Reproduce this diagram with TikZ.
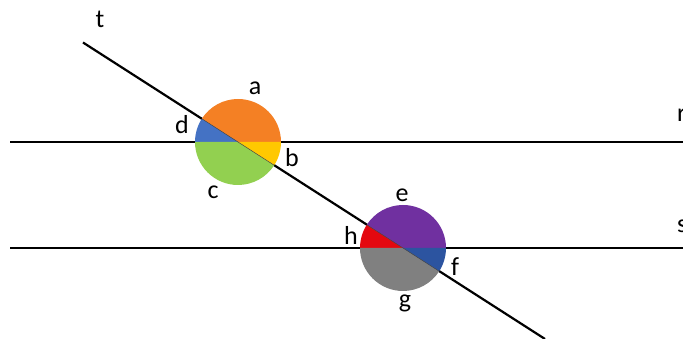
\documentclass[tikz,border=0pt]{standalone}
\usepackage{fontspec}
\setmainfont{Carlito}
\usepackage{tikz}

\definecolor{angA}{RGB}{244,128,36}
\definecolor{angB}{RGB}{255,200,0}
\definecolor{angC}{RGB}{146,208,80}
\definecolor{angD}{RGB}{68,114,196}
\definecolor{angE}{RGB}{112,48,160}
\definecolor{angF}{RGB}{44,84,160}
\definecolor{angG}{RGB}{128,128,128}
\definecolor{angH}{RGB}{228,8,16}

\begin{document}
\begin{tikzpicture}[x=1pt, y=1pt, every node/.style={font=\fontsize{26}{30}\selectfont, inner sep=0pt},
  line/.style={line width=2.2pt}]
  \clip (0,0) rectangle (683,339);
  \useasboundingbox (0,0) rectangle (683,339);

  % Parallel lines r and s, transversal t
  \coordinate (rL) at (10,197);  \coordinate (rR) at (690,197);
  \coordinate (sL) at (10,91);   \coordinate (sR) at (690,91);
  \coordinate (tTop) at (83,296.5); \coordinate (tBot) at (545,0);
  \draw[line] (rL) -- (rR);
  \draw[line] (sL) -- (sR);
  \draw[line] (tTop) -- (tBot);

  % Angles at r
  \coordinate (P) at (238,197);
  \foreach \from/\to/\col in {0/147.3/angA, 147.3/180/angD, 180/327.3/angC, 327.3/360/angB}
    \fill[\col] (P) -- ++(\from:43) arc[start angle=\from, end angle=\to, radius=43] -- cycle;

  % Angles at s
  \coordinate (Q) at (403,91);
  \foreach \from/\to/\col in {0/147.3/angE, 147.3/180/angH, 180/327.3/angG, 327.3/360/angF}
    \fill[\col] (Q) -- ++(\from:43) arc[start angle=\from, end angle=\to, radius=43] -- cycle;
  \draw[line width=0.5pt, black!70] (P) ++(147.3:43) -- ++(-32.7:86);
  \draw[line width=0.5pt, black!70] (Q) ++(147.3:43) -- ++(-32.7:86);

  % Labels
  \node (lt) at (100,320) {t};
  \node[anchor=west] (lr) at (677,224) {r};
  \node[anchor=west] (ls) at (677,113) {s};
  \node (la) at (255,251) {a};
  \node (lb) at (292,181) {b};
  \node (lc) at (213,147) {c};
  \node (ld) at (182,214) {d};
  \node (le) at (402,144) {e};
  \node (lf) at (455,72) {f};
  \node (lg) at (405,36) {g};
  \node (lh) at (351,104) {h};
\end{tikzpicture}
\end{document}
